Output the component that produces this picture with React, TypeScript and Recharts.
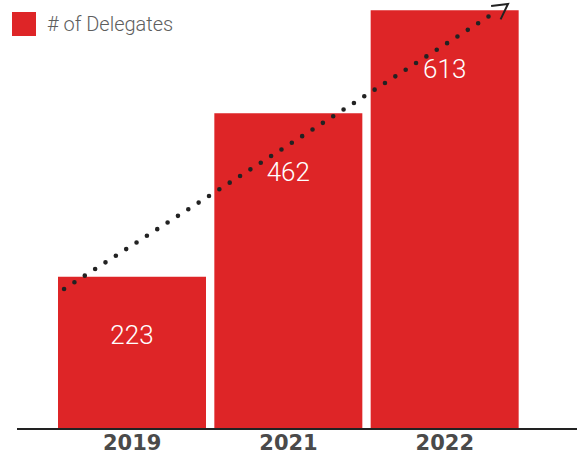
import React from 'react';
import { ComposedChart, Bar, XAxis, YAxis, LabelList, ReferenceLine } from 'recharts';

const years = ['2019', '2021', '2022'];
const delegates = [223, 462, 613];
// dotted trend arrow; x runs 0..2 across the three bands, y in delegates
const trendStart = { x: 0.043, y: 205 };
const trendEnd = { x: 1.936, y: 622 };

const data = years.map((year, i) => ({ year, delegates: delegates[i] }));

const RED = '#DE2527';

const TrendArrow = (props: any) => {
  const { x1, y1, x2, y2 } = props;
  const dx = x2 - x1;
  const dy = y2 - y1;
  const len = Math.sqrt(dx * dx + dy * dy);
  const ux = dx / len;
  const uy = dy / len;
  const stop = 19;
  const back = Math.atan2(-uy, -ux);
  const arm = 17;
  const a1 = back + 0.45;
  const a2 = back - 0.55;
  return (
    <g>
      <line
        x1={x1}
        y1={y1}
        x2={x2 - ux * stop}
        y2={y2 - uy * stop}
        stroke="#222"
        strokeWidth={4.6}
        strokeLinecap="round"
        strokeDasharray="0 12.3"
      />
      <path
        d={`M${x2 + Math.cos(a1) * arm},${y2 + Math.sin(a1) * arm}L${x2},${y2}L${x2 + Math.cos(a2) * arm},${y2 + Math.sin(a2) * arm}`}
        fill="none"
        stroke="#222"
        strokeWidth={2}
      />
    </g>
  );
};

export default function App() {
  return (
    <div style={{ position: 'absolute', left: 0, top: 0, width: 577, height: 454, background: '#fff' }}>
      <ComposedChart width={577} height={454} data={data} margin={{ top: 2, right: 0, bottom: 0, left: 17 }} barCategoryGap={4}>
        <XAxis
          dataKey="year"
          height={25}
          padding={{ left: 37, right: 54 }}
          tickLine={false}
          tickSize={6}
          tickMargin={0}
          axisLine={{ stroke: '#222', strokeWidth: 2 }}
          tick={{ fill: '#4a4a4a', fontSize: 21, fontWeight: 700, fontFamily: '"DejaVu Sans", sans-serif' }}
        />
        <XAxis xAxisId="t" type="number" domain={[0, 2]} allowDataOverflow hide padding={{ left: 37, right: 54 }} />
        <YAxis hide domain={[0, 625]} allowDataOverflow />
        <Bar dataKey="delegates" fill={RED} isAnimationActive={false}>
          <LabelList
            dataKey="delegates"
            position="insideTop"
            offset={49}
            fill="#fff"
            style={{ fontSize: 26, fontWeight: 300, fontFamily: 'Roboto, "Liberation Sans", sans-serif' }}
          />
        </Bar>
        <ReferenceLine
          xAxisId="t"
          segment={[trendStart, trendEnd]}
          ifOverflow="visible"
          shape={<TrendArrow />}
        />
      </ComposedChart>
      <div
        style={{
          position: 'absolute',
          left: 12,
          top: 12,
          display: 'flex',
          alignItems: 'center',
          fontFamily: 'Roboto, "Liberation Sans", sans-serif',
          fontWeight: 300,
        }}
      >
        <span style={{ width: 24, height: 24, background: RED, display: 'inline-block', marginRight: 11 }} />
        <span style={{ fontSize: 20, color: '#5e5e5e' }}># of Delegates</span>
      </div>
    </div>
  );
}
